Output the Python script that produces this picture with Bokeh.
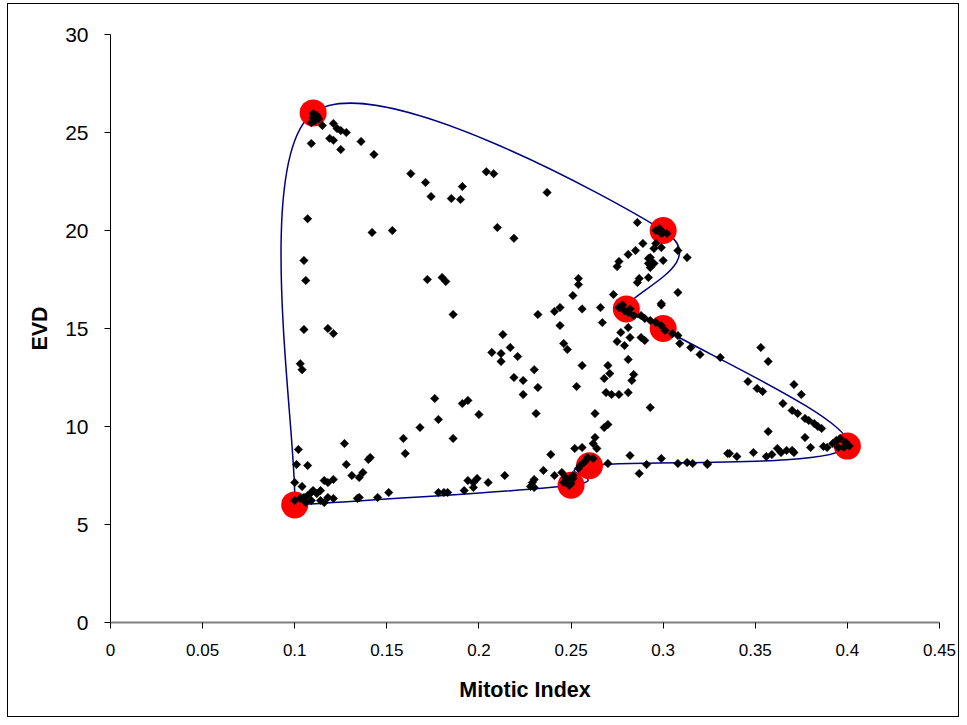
import numpy as np
from bokeh.plotting import figure
from bokeh.models import Range1d, FixedTicker, InlineStyleSheet
from bokeh.embed import file_html
from bokeh.resources import INLINE

# ---- data ----
mitotic_index = [
    0.110, 0.110, 0.109, 0.112, 0.115, 0.121, 0.123, 0.125, 0.128, 0.121, 0.119, 0.109, 0.125, 0.136, 0.143, 0.111, 0.113,
    0.163, 0.171, 0.174, 0.185, 0.190, 0.191, 0.204, 0.208, 0.107, 0.142, 0.153, 0.210, 0.219, 0.105, 0.237,
    0.106, 0.105, 0.118, 0.121, 0.103, 0.104, 0.172, 0.180, 0.182, 0.186,
    0.232, 0.241, 0.244, 0.251, 0.254, 0.254,
    0.213, 0.217, 0.207, 0.212, 0.212, 0.221, 0.219,
    0.176, 0.178, 0.191, 0.194, 0.200, 0.168,
    0.256, 0.266, 0.299, 0.244, 0.267,
    0.276, 0.281, 0.284, 0.288, 0.290, 0.293, 0.296, 0.299, 0.301, 0.305, 0.308, 0.278, 0.282, 0.279,
    0.309, 0.315, 0.320, 0.331,
    0.277, 0.281, 0.275, 0.279, 0.282, 0.288, 0.290, 0.281, 0.293,
    0.270, 0.271, 0.268, 0.284, 0.283, 0.269, 0.272, 0.276, 0.281,
    0.256, 0.253, 0.263, 0.268, 0.270,
    0.230, 0.224, 0.232, 0.224, 0.231,
    0.246, 0.248,
    0.263, 0.262, 0.264, 0.252, 0.256, 0.239, 0.282, 0.299, 0.270, 0.291, 0.308, 0.313, 0.316, 0.324, 0.335,
    0.287, 0.235, 0.241, 0.214, 0.230,
    0.262, 0.259,
    0.257, 0.255, 0.254, 0.258, 0.245, 0.247, 0.248, 0.250, 0.246, 0.251, 0.251, 0.249,
    0.229, 0.228, 0.230,
    0.286, 0.298, 0.300, 0.302, 0.299, 0.296,
    0.296, 0.295, 0.299, 0.289, 0.285, 0.281, 0.276, 0.275, 0.292, 0.294, 0.292, 0.293, 0.300, 0.308, 0.313,
    0.287, 0.286, 0.292, 0.308, 0.299, 0.273, 0.293, 0.295,
    0.353, 0.357, 0.346, 0.351, 0.354, 0.371, 0.375, 0.365, 0.370, 0.373, 0.377, 0.379, 0.382, 0.384, 0.386,
    0.357, 0.377, 0.380, 0.387, 0.389, 0.392, 0.394, 0.396, 0.400, 0.398, 0.395, 0.399, 0.401,
    0.336, 0.340, 0.349, 0.356, 0.359, 0.362, 0.364, 0.367, 0.370, 0.371, 0.324,
    0.102, 0.101, 0.107, 0.100, 0.104,
    0.100, 0.103, 0.105, 0.107, 0.109, 0.110, 0.112, 0.114, 0.116, 0.118, 0.121, 0.114, 0.116, 0.118, 0.121, 0.109, 0.106,
    0.127, 0.128, 0.131, 0.135, 0.137, 0.140, 0.141, 0.135, 0.134, 0.145, 0.151, 0.159, 0.160, 0.186,
    0.178, 0.181, 0.183, 0.192, 0.194, 0.197, 0.199, 0.197, 0.205,
]
evd = [
    25.97, 25.77, 25.50, 25.87, 25.36, 25.46, 25.20, 25.10, 25.00, 24.60, 24.70, 24.44, 24.13, 24.54, 23.88, 25.60, 25.70,
    22.90, 22.45, 21.73, 21.63, 21.58, 22.24, 23.00, 22.90, 20.60, 19.90, 20.00, 20.15, 19.60, 18.47, 21.94,
    17.45, 14.95, 15.00, 14.74, 13.20, 12.90, 17.50, 17.60, 17.40, 15.71,
    15.71, 15.87, 16.07, 16.68, 17.24, 17.55,
    14.69, 14.03, 13.78, 13.72, 13.32, 13.57, 12.50,
    11.43, 10.36, 11.17, 11.33, 10.61, 9.95,
    16.00, 16.07, 16.20, 15.15, 15.30,
    16.07, 15.82, 15.66, 15.66, 15.51, 15.41, 15.31, 15.15, 14.90, 14.74, 14.64, 16.20, 16.00, 15.90,
    14.23, 14.03, 13.67, 13.52,
    14.80, 15.05, 14.34, 14.13, 14.54, 14.54, 14.39, 13.42, 10.97,
    13.11, 12.70, 12.45, 12.65, 12.35, 11.73, 11.63, 11.63, 11.73,
    13.11, 12.04, 10.66, 9.95, 10.10,
    12.90, 12.35, 11.99, 11.63, 10.66,
    14.23, 13.93,
    9.44, 9.13, 8.88, 8.88, 8.93, 8.57, 8.52, 8.37, 8.11, 8.06, 8.11, 8.16, 8.11, 8.11, 8.62,
    7.60, 7.76, 7.50, 7.50, 7.30,
    8.37, 8.42,
    8.16, 8.01, 7.86, 8.27, 7.65, 7.40, 7.24, 7.09, 7.14, 7.35, 7.50, 6.99,
    7.14, 6.94, 6.89,
    20.41, 20.10, 19.90, 19.85, 19.85, 20.00,
    19.34, 19.08, 19.13, 19.34, 18.98, 18.78, 18.42, 18.16, 18.57, 18.37, 18.32, 18.11, 18.47, 18.98, 18.62,
    17.55, 17.35, 17.60, 16.84, 16.28, 16.73, 18.62, 18.32,
    14.03, 13.32, 12.30, 11.94, 11.79, 12.14, 11.63, 11.17, 10.82, 10.66, 10.41, 10.31, 10.15, 10.00, 9.90,
    9.74, 9.44, 8.93, 8.98, 8.93, 9.13, 9.29, 9.39, 9.08, 8.93, 8.93, 9.20, 9.00,
    8.62, 8.47, 8.67, 8.47, 8.57, 8.88, 8.67, 8.78, 8.78, 8.67, 8.06,
    8.83, 8.06, 8.01, 7.14, 6.94,
    6.22, 6.33, 6.38, 6.48, 6.63, 6.73, 6.58, 6.73, 7.24, 7.14, 7.30, 6.22, 6.12, 6.38, 6.33, 6.22, 6.12,
    9.13, 8.06, 7.50, 7.40, 7.65, 8.32, 8.42, 6.38, 6.33, 6.38, 6.63, 9.39, 8.62, 9.39,
    6.63, 6.63, 6.63, 6.73, 7.24, 6.89, 7.35, 7.14, 7.14,
]

highlight_x = [0.10, 0.11, 0.30, 0.28, 0.30, 0.40, 0.26, 0.25]
highlight_y = [6, 26, 20, 16, 15, 9, 8, 7]

hull_x = [0.10, 0.11, 0.30, 0.28, 0.30, 0.40, 0.26, 0.25, 0.10]
hull_y = [6, 26, 20, 16, 15, 9, 8, 7, 6]

x_ticks = [0, 0.05, 0.1, 0.15, 0.2, 0.25, 0.3, 0.35, 0.4, 0.45]
x_tick_labels = ["0", "0.05", "0.1", "0.15", "0.2", "0.25", "0.3", "0.35", "0.4", "0.45"]
y_ticks = [0, 5, 10, 15, 20, 25, 30]

FONT = "Liberation Sans"
W, H = 959, 717

# ---- smooth (Catmull-Rom -> cubic Bezier) segments through the hull vertices ----
P = np.column_stack([hull_x, hull_y]).astype(float)
Pext = np.vstack([P[0], P, P[-1]])
x0, y0, x1, y1, cx0, cy0, cx1, cy1 = [], [], [], [], [], [], [], []
for i in range(len(P) - 1):
    pm, pa, pb, pn = Pext[i], Pext[i + 1], Pext[i + 2], Pext[i + 3]
    c1 = pa + (pb - pm) / 6.0
    c2 = pb - (pn - pa) / 6.0
    x0.append(pa[0]); y0.append(pa[1]); x1.append(pb[0]); y1.append(pb[1])
    cx0.append(c1[0]); cy0.append(c1[1]); cx1.append(c2[0]); cy1.append(c2[1])

p = figure(width=W, height=H, x_range=Range1d(0, 0.45), y_range=Range1d(0, 30),
           output_backend="svg", toolbar_location=None,
           min_border_left=110, min_border_right=W - 939, min_border_top=34, min_border_bottom=H - 622)
# chart-area border drawn as an overlay, inset like the reference
p.stylesheets = [InlineStyleSheet(css="""
:host { position: relative; }
:host::after {
  content: "";
  position: absolute;
  left: 7px; top: 3px; right: 0px; bottom: 0px;
  border: 1px solid black;
  pointer-events: none;
  z-index: 1000;
}
""")]
p.outline_line_color = None
p.xgrid.visible = False
p.ygrid.visible = False
p.background_fill_color = "white"
p.border_fill_color = "white"

p.bezier(x0=x0, y0=y0, x1=x1, y1=y1, cx0=cx0, cy0=cy0, cx1=cx1, cy1=cy1,
         line_color="#000080", line_width=1.5)
p.scatter(highlight_x, highlight_y, marker="circle", size=27, fill_color="#FF0000", line_color=None)
p.scatter(mitotic_index, evd, marker="square", angle=np.pi / 4, size=6,
          fill_color="black", line_color="black", line_width=0.5)

xa = p.xaxis[0]
xa.ticker = FixedTicker(ticks=x_ticks)
xa.major_label_overrides = {t: l for t, l in zip(x_ticks, x_tick_labels)}
xa.minor_tick_line_color = None
xa.axis_line_color = "#808080"
xa.axis_line_width = 2
xa.major_tick_line_color = "black"
xa.major_tick_out = 6
xa.major_tick_in = 0
xa.major_label_standoff = 15
xa.major_label_text_font = FONT
xa.major_label_text_font_size = "17px"
xa.major_label_text_color = "black"
xa.axis_label = "Mitotic Index"
xa.axis_label_text_font = FONT
xa.axis_label_text_font_style = "bold"
xa.axis_label_text_font_size = "21.5px"
xa.axis_label_text_color = "black"
xa.axis_label_standoff = 19

ya = p.yaxis[0]
ya.ticker = FixedTicker(ticks=y_ticks)
ya.minor_tick_line_color = None
ya.axis_line_color = "black"
ya.axis_line_width = 1
ya.major_tick_line_color = "black"
ya.major_tick_out = 6
ya.major_tick_in = 0
ya.major_label_standoff = 16
ya.major_label_text_font = FONT
ya.major_label_text_font_size = "21px"
ya.major_label_text_color = "black"
ya.axis_label = "EVD"
ya.axis_label_text_font = FONT
ya.axis_label_text_font_style = "bold"
ya.axis_label_text_font_size = "21.5px"
ya.axis_label_text_color = "black"
ya.axis_label_standoff = 10

open("out.html", "w").write(file_html(p, INLINE))
